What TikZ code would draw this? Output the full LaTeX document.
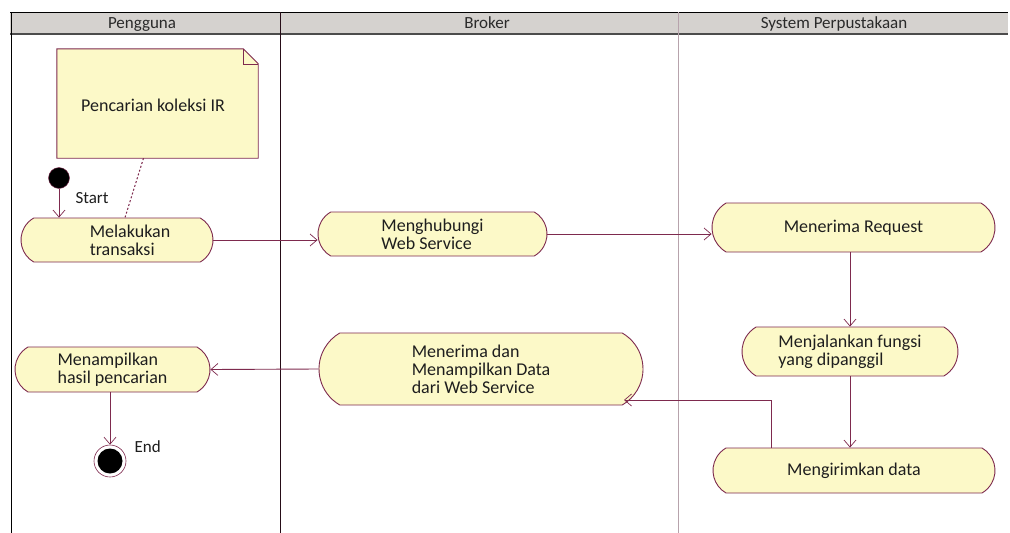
\documentclass[tikz,border=0pt]{standalone}
\usepackage{fontspec}
\setmainfont{Carlito}
\usetikzlibrary{shapes.misc,arrows.meta,calc}
\definecolor{lc}{HTML}{7E2A4E}
\definecolor{yc}{HTML}{FCF9C8}
\definecolor{hc}{HTML}{D5D2CF}
\definecolor{htxt}{HTML}{2A2A2A}
\definecolor{ltxt}{HTML}{1E1E1E}
\begin{document}
\begin{tikzpicture}[x=1pt,y=-1pt,
  act/.style={rounded rectangle, rounded rectangle arc length=120, draw=lc, line width=0.9pt,
    fill=yc, inner sep=0pt, align=left, font=\fontsize{18}{18}\selectfont, text=ltxt},
  arr/.style={draw=lc, line width=0.9pt, -{Straight Barb[length=7pt,width=12pt,line width=0.7pt]}},
  hdr/.style={font=\fontsize{17}{18}\selectfont, text=htxt, anchor=base},
  lbl/.style={font=\fontsize{17}{18}\selectfont, text=ltxt}]
\useasboundingbox (0,0) rectangle (1010,533);
\fill[white] (0,0) rectangle (1010,533);
% header
\fill[hc] (10,12) rectangle (1008,34);
\draw[black, line width=0.8pt] (10,12) -- (1008,12);
\draw[black!70, line width=1.8pt] (10,34) -- (1008,34);
\node[hdr] (h1) at (142,28) {Pengguna};
\node[hdr] (h2) at (487,28) {Broker};
\node[hdr] (h3) at (834,28) {System Perpustakaan};
% lanes
\draw[black, line width=0.9pt] (11,12) -- (11,533);
\draw[black!70!lc, line width=0.9pt] (280,12) -- (280,533);
\draw[black!40!lc!40!white, line width=0.9pt] (678,12) -- (678,533);
% note
\node[minimum width=201pt, minimum height=109pt, inner sep=0pt] (note) at (157.5,103.5) {};
\fill[yc] (note.north west) -- ($(note.north east)+(-15,0)$) -- ($(note.north east)+(0,15)$) -- (note.south east) -- (note.south west) -- cycle;
\draw[lc, line width=0.9pt] (note.north west) -- ($(note.north east)+(-15,0)$) -- ($(note.north east)+(0,15)$) -- (note.south east) -- (note.south west) -- cycle;
\draw[lc, line width=0.6pt] ($(note.north east)+(-15,0)$) -- ($(note.north east)+(-15,15)$) -- ($(note.north east)+(0,15)$);
\node[lbl, font=\fontsize{18}{18}\selectfont] (notetxt) at (153,105) {Pencarian koleksi IR};
% activities
\node[act, minimum width=192pt, minimum height=44pt] (mel) at (117,240) {\hspace*{26pt}Melakukan\\\hspace*{26pt}transaksi};
\node[act, minimum width=229pt, minimum height=44pt] (meng) at (432.5,234) {Menghubungi\\Web Service};
\node[act, minimum width=283pt, minimum height=49pt] (req) at (853.5,227.5) {Menerima Request};
\node[act, minimum width=216pt, minimum height=49pt] (jal) at (850,351.5) {Menjalankan fungsi\\yang dipanggil};
\node[act, minimum width=282pt, minimum height=45pt] (kirim) at (854,470.5) {Mengirimkan data};
\node[act, minimum width=324pt, minimum height=72pt] (terima) at (481,369) {Menerima dan\\Menampilkan Data\\dari Web Service};
\node[act, minimum width=195pt, minimum height=45pt] (tampil) at (112.5,369.5) {Menampilkan\\hasil pencarian};
% start / end
\node[circle, fill=black, draw=lc, minimum size=21pt, inner sep=0pt] (start) at (59,178) {};
\node[lbl, anchor=west] (starttxt) at (72,198) {Start};
\node[circle, draw=lc, line width=0.6pt, fill=white, minimum size=32pt, inner sep=0pt] (end) at (110,461) {};
\node[circle, fill=black, minimum size=25pt, inner sep=0pt] (endin) at (end.center) {};
\node[lbl, anchor=west] (endtxt) at (131,447) {End};
% connectors
\draw[lc, dash pattern=on 2pt off 2pt, line width=1pt] ($(note.south)+(-14,0)$) -- ($(mel.north)+(8,0)$);
\draw[arr] (start) -- (start |- mel.north);
\draw[arr] (mel.east) -- (meng.west |- mel.east);
\draw[arr] (meng.east) -- (req.west |- meng.east);
\draw[arr] (jal.north |- req.south) -- (jal.north);
\draw[arr] (jal.south) -- (jal.south |- kirim.north);
\coordinate (kx) at (771,448);
\coordinate (tr) at (624,400);
\draw[arr] (kx) |- (tr);
\draw[arr] (terima.west) -- (tampil.east);
\draw[arr] (tampil.south -| end.north) -- (end.north);
\end{tikzpicture}
\end{document}
